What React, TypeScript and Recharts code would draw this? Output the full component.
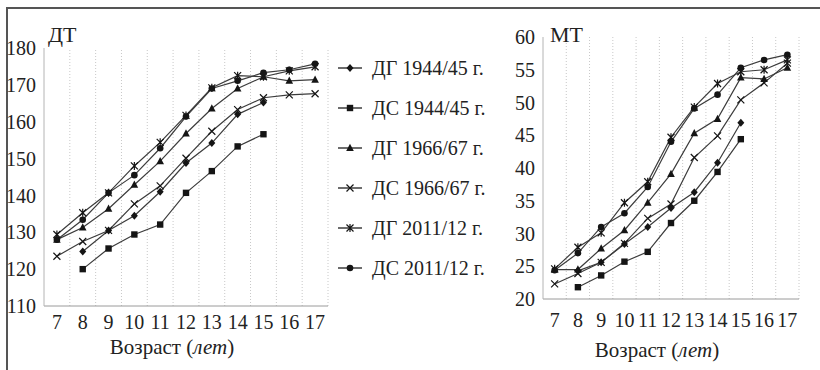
import React from "react";
import { LineChart, Line, XAxis, YAxis, ReferenceLine } from "recharts";

// ages on both charts
const ages = [7, 8, 9, 10, 11, 12, 13, 14, 15, 16, 17];

// ДТ, cm
const htDG1944 = [null, 124.8, 130.5, 134.5, 141.0, 148.8, 154.2, 162.0, 165.2, null, null];
const htDS1944 = [null, 120.0, 125.6, 129.4, 132.1, 140.7, 146.6, 153.3, 156.6, null, null];
const htDG1966 = [128.0, 131.3, 136.4, 142.9, 149.3, 156.8, 163.6, 169.0, 172.2, 171.1, 171.4];
const htDS1966 = [123.5, 127.5, 130.5, 137.7, 142.6, 150.1, 157.4, 163.3, 166.5, 167.3, 167.6];
const htDG2011 = [129.4, 135.3, 140.7, 148.0, 154.4, 161.7, 169.2, 172.5, 172.2, 173.8, 174.9];
const htDS2011 = [128.0, 133.4, 140.7, 145.5, 152.8, 161.4, 169.0, 171.1, 173.3, 174.1, 175.7];

// МТ, kg
const wtDG1944 = [null, 24.3, 25.6, 28.4, 31.0, 33.9, 36.3, 40.8, 46.9, null, null];
const wtDS1944 = [null, 21.8, 23.6, 25.7, 27.2, 31.6, 35.0, 39.4, 44.4, null, null];
const wtDG1966 = [24.5, 24.5, 27.7, 30.5, 34.7, 39.1, 45.3, 47.5, 53.8, 53.6, 55.3];
const wtDS1966 = [22.3, 23.9, 25.6, 28.5, 32.3, 34.5, 41.6, 44.9, 50.4, 53.0, 56.0];
const wtDG2011 = [24.6, 27.9, 30.1, 34.7, 37.9, 44.7, 49.3, 52.9, 54.7, 55.0, 56.5];
const wtDS2011 = [24.4, 27.0, 31.0, 33.1, 37.1, 44.0, 49.1, 51.2, 55.3, 56.5, 57.3];

const htTicks = [110, 120, 130, 140, 150, 160, 170, 180];
const wtTicks = [20, 25, 30, 35, 40, 45, 50, 55, 60];

const series = [
  { key: "dg1944", name: "ДГ 1944/45 г.", shape: "diamond" },
  { key: "ds1944", name: "ДС 1944/45 г.", shape: "square" },
  { key: "dg1966", name: "ДГ 1966/67 г.", shape: "triangle" },
  { key: "ds1966", name: "ДС 1966/67 г.", shape: "x" },
  { key: "dg2011", name: "ДГ 2011/12 г.", shape: "star" },
  { key: "ds2011", name: "ДС 2011/12 г.", shape: "circle" },
];

const heightRows = ages.map((age, i) => ({
  age,
  dg1944: htDG1944[i],
  ds1944: htDS1944[i],
  dg1966: htDG1966[i],
  ds1966: htDS1966[i],
  dg2011: htDG2011[i],
  ds2011: htDS2011[i],
}));

const weightRows = ages.map((age, i) => ({
  age,
  dg1944: wtDG1944[i],
  ds1944: wtDS1944[i],
  dg1966: wtDG1966[i],
  ds1966: wtDS1966[i],
  dg2011: wtDG2011[i],
  ds2011: wtDS2011[i],
}));

const FONT = "Liberation Serif, Times New Roman, Tinos, DejaVu Serif, Noto Serif, serif";
const LINE = "#3c3c3c";
const INK = "#151515";

function Marker({ shape, cx, cy }: { shape: string; cx: number; cy: number }) {
  switch (shape) {
    case "diamond":
      return <path d={`M${cx},${cy - 4}L${cx + 3.5},${cy}L${cx},${cy + 4}L${cx - 3.5},${cy}Z`} fill={INK} />;
    case "square":
      return <rect x={cx - 3.2} y={cy - 3.2} width={6.4} height={6.4} fill={INK} />;
    case "triangle":
      return <path d={`M${cx},${cy - 4.2}L${cx + 3.8},${cy + 3}L${cx - 3.8},${cy + 3}Z`} fill={INK} />;
    case "x":
      return (
        <path
          d={`M${cx - 3.5},${cy - 3.5}L${cx + 3.5},${cy + 3.5}M${cx - 3.5},${cy + 3.5}L${cx + 3.5},${cy - 3.5}`}
          stroke={INK}
          strokeWidth={1.2}
        />
      );
    case "star":
      return (
        <path
          d={`M${cx - 3.5},${cy - 3.5}L${cx + 3.5},${cy + 3.5}M${cx - 3.5},${cy + 3.5}L${cx + 3.5},${cy - 3.5}M${cx},${cy - 4}L${cx},${cy + 4}`}
          stroke={INK}
          strokeWidth={1.2}
        />
      );
    default:
      return <circle cx={cx} cy={cy} r={3.3} fill={INK} />;
  }
}

function renderDot(shape: string) {
  return (p: any) => {
    if (p.value == null || p.cy == null || Number.isNaN(p.cy)) return <g key={p.index} />;
    return (
      <g key={p.index}>
        <Marker shape={shape} cx={p.cx} cy={p.cy} />
      </g>
    );
  };
}

function AgeTitle({ viewBox, dy }: any) {
  const { x, y, width } = viewBox;
  return (
    <text x={x + width / 2 - 14} y={y + dy} textAnchor="middle" style={{ fontFamily: FONT }} fontSize={21} fill="#222">
      <tspan>Возраст (</tspan>
      <tspan fontStyle="italic">лет</tspan>
      <tspan>)</tspan>
    </text>
  );
}

type PanelProps = {
  data: any[];
  left: number;
  width: number;
  top: number;
  right: number;
  yWidth: number;
  xHeight: number;
  domain: [number, number];
  ticks: number[];
  tickDy: number;
  titleDy: number;
};

function Panel({ data, left, width, top, right, yWidth, xHeight, domain, ticks, tickDy, titleDy }: PanelProps) {
  return (
    <div style={{ position: "absolute", left, top: 0 }}>
      <LineChart width={width} height={370} data={data} margin={{ top, right, bottom: 0, left: 0 }}>
        <XAxis
          dataKey="age"
          type="number"
          domain={[6.5, 17.5]}
          ticks={ages}
          interval={0}
          tickLine={false}
          tickSize={0}
          axisLine={{ stroke: "#9a9a9a" }}
          height={xHeight}
          tick={(t: any) => (
            <text x={t.x} y={t.y + tickDy} textAnchor="middle" style={{ fontFamily: FONT }} fontSize={20} fill="#222">
              {t.payload.value}
            </text>
          )}
          label={(lp: any) => <AgeTitle viewBox={lp.viewBox} dy={titleDy} />}
        />
        <YAxis
          type="number"
          domain={domain}
          ticks={ticks}
          interval={0}
          width={yWidth}
          tickLine={false}
          tickMargin={2}
          axisLine={{ stroke: "#b4b4b4" }}
          tick={{ style: { fontFamily: FONT }, fontSize: 20, fill: "#222" }}
        />
        {ages.map((a) => (
          <ReferenceLine key={a} x={a + 0.5} stroke="#c8c8c8" strokeDasharray="1 2" />
        ))}
        {series.map((s) => (
          <Line
            key={s.key}
            type="linear"
            dataKey={s.key}
            name={s.name}
            stroke={LINE}
            strokeWidth={1.2}
            dot={renderDot(s.shape)}
            activeDot={false}
            isAnimationActive={false}
          />
        ))}
      </LineChart>
    </div>
  );
}

function LegendBlock() {
  return (
    <div style={{ position: "absolute", left: 336, top: 48 }}>
      {series.map((s) => (
        <div key={s.key} style={{ display: "flex", alignItems: "center", height: 40 }}>
          <svg width={28} height={12} style={{ display: "block" }}>
            <line x1={2} y1={6} x2={26} y2={6} stroke={LINE} strokeWidth={1.5} />
            <Marker shape={s.shape} cx={14} cy={6} />
          </svg>
          <span style={{ fontFamily: FONT, fontSize: 20, color: "#222", marginLeft: 8, whiteSpace: "nowrap" }}>
            {s.name}
          </span>
        </div>
      ))}
    </div>
  );
}

export default function App() {
  const title = { position: "absolute" as const, fontFamily: FONT, fontSize: 22, color: "#222", lineHeight: "22px" };
  return (
    <div style={{ position: "absolute", left: 0, top: 0, width: 820, height: 370, background: "#fff", overflow: "hidden" }}>
      <div style={{ position: "absolute", left: 6, top: 7, width: 814, height: 2, background: "#555" }} />
      <div style={{ position: "absolute", left: 6, top: 7, width: 2, height: 363, background: "#555" }} />
      <Panel
        data={heightRows}
        left={0}
        width={340}
        top={48}
        right={12}
        yWidth={44}
        xHeight={64}
        domain={[110, 180]}
        ticks={htTicks}
        tickDy={21}
        titleDy={48}
      />
      <Panel
        data={weightRows}
        left={500}
        width={320}
        top={37}
        right={21}
        yWidth={43}
        xHeight={71}
        domain={[20, 60]}
        ticks={wtTicks}
        tickDy={26}
        titleDy={58}
      />
      <div style={{ ...title, left: 48, top: 24 }}>ДТ</div>
      <div style={{ ...title, left: 550, top: 24 }}>МТ</div>
      <LegendBlock />
    </div>
  );
}
